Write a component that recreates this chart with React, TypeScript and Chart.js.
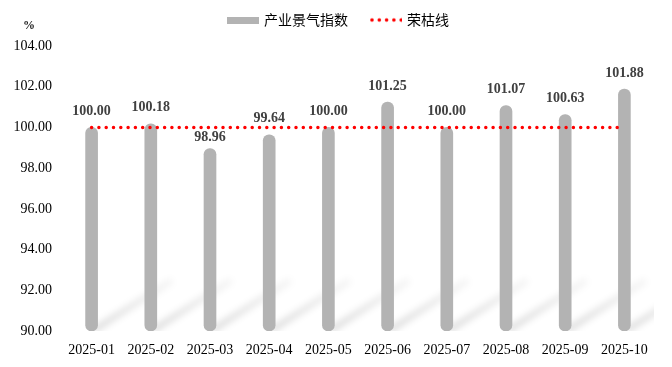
import React, { useEffect, useRef } from "react";
import { Chart, registerables } from "chart.js";

Chart.register(...registerables);

const categories = ["2025-01", "2025-02", "2025-03", "2025-04", "2025-05", "2025-06", "2025-07", "2025-08", "2025-09", "2025-10"];
const indexValues = [100.0, 100.18, 98.96, 99.64, 100.0, 101.25, 100.0, 101.07, 100.63, 101.88];
const thresholdValues = [100, 100, 100, 100, 100, 100, 100, 100, 100, 100];
const yTickValues = [90, 92, 94, 96, 98, 100, 102, 104];
const seriesNames = ["产业景气指数", "荣枯线"];

const BAR_COLOR = "#b3b3b3";
const LINE_COLOR = "#ff0000";
const SERIF = "'Liberation Serif', 'Times New Roman', serif";
const CJK = "'Noto Sans CJK SC', sans-serif";

function makeBarSwatch() {
  const c = document.createElement("canvas");
  c.width = 32;
  c.height = 7;
  const ctx = c.getContext("2d")!;
  ctx.fillStyle = BAR_COLOR;
  ctx.fillRect(0, 0, 32, 7);
  return c;
}

function makeDotSwatch() {
  const c = document.createElement("canvas");
  c.width = 32;
  c.height = 7;
  const ctx = c.getContext("2d")!;
  ctx.fillStyle = LINE_COLOR;
  for (let i = 0; i < 5; i++) {
    ctx.beginPath();
    ctx.arc(2 + i * 7.3, 3.5, 1.8, 0, Math.PI * 2);
    ctx.fill();
  }
  return c;
}

const shadowPlugin = {
  id: "barShadow",
  beforeDatasetsDraw(chart: any) {
    const meta = chart.getDatasetMeta(1);
    const area = chart.chartArea;
    const ctx = chart.ctx;
    ctx.save();
    ctx.beginPath();
    ctx.rect(area.left, area.top, area.right - area.left, area.bottom - area.top);
    ctx.clip();
    ctx.filter = "blur(3px)";
    meta.data.forEach((el: any) => {
      const x0 = el.x + 4;
      const y0 = el.base - 2;
      const x1 = x0 + 74;
      const y1 = y0 - 47;
      const g = ctx.createLinearGradient(x0, y0, x1, y1);
      g.addColorStop(0, "rgba(0,0,0,0.12)");
      g.addColorStop(1, "rgba(0,0,0,0.04)");
      ctx.strokeStyle = g;
      ctx.lineWidth = 7;
      ctx.lineCap = "round";
      ctx.beginPath();
      ctx.moveTo(x0, y0);
      ctx.lineTo(x1, y1);
      ctx.stroke();
    });
    ctx.restore();
  },
};

const labelPlugin = {
  id: "barLabels",
  afterDatasetsDraw(chart: any) {
    const meta = chart.getDatasetMeta(1);
    const y = chart.scales.y;
    const lineY = y.getPixelForValue(thresholdValues[0]);
    const ctx = chart.ctx;
    ctx.save();
    ctx.font = `bold 14px ${SERIF}`;
    ctx.fillStyle = "#404040";
    ctx.textAlign = "center";
    ctx.textBaseline = "middle";
    meta.data.forEach((el: any, i: number) => {
      let ly = el.y - 16;
      if (ly > lineY - 4) ly = lineY + 10;
      ctx.fillText(indexValues[i].toFixed(2), el.x, ly);
    });
    ctx.restore();
  },
  afterDraw(chart: any) {
    const ctx = chart.ctx;
    const area = chart.chartArea;
    ctx.save();
    ctx.font = `bold 12px ${SERIF}`;
    ctx.fillStyle = "#222";
    ctx.textAlign = "center";
    ctx.textBaseline = "middle";
    ctx.fillText("%", area.left - 33, area.top - 20);
    ctx.restore();
  },
};

function makeLegendPlugin(swatches: HTMLCanvasElement[]) {
  return {
    id: "customLegend",
    afterDraw(chart: any) {
      const ctx = chart.ctx;
      ctx.save();
      ctx.font = `14px ${CJK}`;
      ctx.fillStyle = "#000";
      ctx.textBaseline = "middle";
      ctx.textAlign = "left";
      const gapBox = 5;
      const gapItem = 22;
      const widths = seriesNames.map((n) => 32 + gapBox + ctx.measureText(n).width);
      const total = widths.reduce((a, b) => a + b, 0) + gapItem * (widths.length - 1);
      let x = chart.width / 2 + 2 - total / 2;
      const cy = 20;
      seriesNames.forEach((n, i) => {
        ctx.drawImage(swatches[i], x, cy - 3.5, 32, 7);
        ctx.fillText(n, x + 32 + gapBox, cy);
        x += widths[i] + gapItem;
      });
      ctx.restore();
    },
  };
}

export default function App() {
  const ref = useRef<HTMLCanvasElement | null>(null);

  useEffect(() => {
    document.body.style.margin = "0";
    const swatches = [makeBarSwatch(), makeDotSwatch()];
    const chart = new Chart(ref.current!, {
      type: "bar",
      data: {
        labels: categories,
        datasets: [
          {
            type: "line",
            label: seriesNames[1],
            data: thresholdValues,
            borderColor: LINE_COLOR,
            backgroundColor: LINE_COLOR,
            borderWidth: 3.5,
            borderDash: [0, 7.3],
            borderCapStyle: "round",
            pointRadius: 0,
            order: 0,
          } as any,
          {
            type: "bar",
            label: seriesNames[0],
            data: indexValues,
            backgroundColor: BAR_COLOR,
            barThickness: 12,
            borderRadius: 6,
            borderSkipped: false,
            base: 90,
            order: 1,
          } as any,
        ],
      },
      options: {
        animation: false,
        responsive: false,
        layout: { padding: { top: 46, left: 12, right: 18, bottom: 0 } },
        plugins: {
          tooltip: { enabled: false },
          legend: { display: false },
        },
        scales: {
          x: {
            grid: { display: false, drawTicks: false },
            border: { display: false },
            afterFit: (scale: any) => {
              scale.height = 36;
            },
            ticks: {
              color: "#000",
              padding: 11,
              maxRotation: 0,
              font: { family: SERIF, size: 14 },
            },
          },
          y: {
            min: 90,
            max: 104,
            grid: { display: false, drawTicks: false },
            border: { display: false },
            afterFit: (scale: any) => {
              scale.width = 50;
            },
            afterBuildTicks: (scale: any) => {
              scale.ticks = yTickValues.map((v) => ({ value: v }));
            },
            ticks: {
              color: "#000",
              padding: 10,
              callback: (v: any) => Number(v).toFixed(2),
              font: { family: SERIF, size: 14 },
            },
          },
        },
      },
      plugins: [shadowPlugin, labelPlugin, makeLegendPlugin(swatches)],
    });
    return () => chart.destroy();
  }, []);

  return <canvas ref={ref} width={672} height={367} style={{ display: "block" }} />;
}
